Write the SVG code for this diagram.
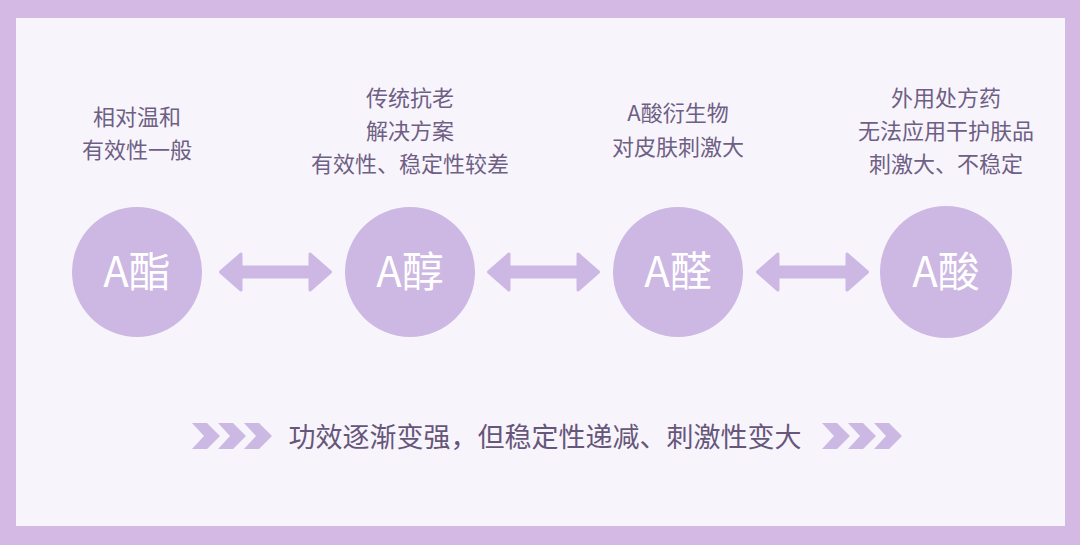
<svg xmlns="http://www.w3.org/2000/svg" width="1080" height="545" viewBox="0 0 1080 545">
  <style>
    .lbl { font-family: "Noto Sans CJK SC", "Noto Sans", sans-serif; font-size: 22px; fill: #6e5f84; text-anchor: middle; }
    .ttl { font-family: "Noto Sans CJK SC", "Noto Sans", sans-serif; font-size: 42px; fill: #ffffff; text-anchor: middle; }
    .bot { font-family: "Noto Sans CJK SC", "Noto Sans", sans-serif; font-size: 27px; fill: #66577a; text-anchor: middle; }
    .circ { fill: #cdb7e3; }
    .arr { fill: #cdb7e3; stroke: #cdb7e3; stroke-width: 3; stroke-linejoin: round; }
    .chev { fill: #cbb8e3; }
  </style>
  <defs>
    <path id="dbl" d="M1.5,0 L22,-18 L22,-5 L91,-5 L91,-18 L111.5,0 L91,18 L91,5 L22,5 L22,18 Z"/>
    <g id="chevs">
      <path d="M0,-13 L15,-13 L28,0 L15,13 L0,13 L12,0 Z"/>
      <path d="M26,-13 L41,-13 L54,0 L41,13 L26,13 L38,0 Z"/>
      <path d="M52,-13 L67,-13 L80,0 L67,13 L52,13 L64,0 Z"/>
    </g>
  </defs>
  <rect x="0" y="0" width="1080" height="545" fill="#d3b9e4"/>
  <rect x="16" y="18" width="1049" height="508" fill="#f8f4fc"/>

  <g id="node-ester">
    <text class="lbl" x="137" y="125">相对温和</text>
    <text class="lbl" x="137" y="158">有效性一般</text>
    <circle class="circ" cx="137" cy="272" r="65"/>
    <text class="ttl" x="137" y="287">A酯</text>
  </g>
  <g id="node-alcohol">
    <text class="lbl" x="410" y="106">传统抗老</text>
    <text class="lbl" x="410" y="139">解决方案</text>
    <text class="lbl" x="410" y="172">有效性、稳定性较差</text>
    <circle class="circ" cx="410" cy="272" r="65"/>
    <text class="ttl" x="410" y="287">A醇</text>
  </g>
  <g id="node-aldehyde">
    <text class="lbl" x="678" y="121">A酸衍生物</text>
    <text class="lbl" x="678" y="155">对皮肤刺激大</text>
    <circle class="circ" cx="678" cy="272" r="65"/>
    <text class="ttl" x="678" y="287">A醛</text>
  </g>
  <g id="node-acid">
    <text class="lbl" x="946" y="106">外用处方药</text>
    <text class="lbl" x="946" y="139">无法应用干护肤品</text>
    <text class="lbl" x="946" y="172">刺激大、不稳定</text>
    <circle class="circ" cx="946" cy="272" r="66"/>
    <text class="ttl" x="946" y="287">A酸</text>
  </g>

  <g id="connectors">
    <use href="#dbl" class="arr" transform="translate(219,272)"/>
    <use href="#dbl" class="arr" transform="translate(487,272)"/>
    <use href="#dbl" class="arr" transform="translate(756,272)"/>
  </g>

  <g id="trend">
    <use href="#chevs" class="chev" transform="translate(192,436)"/>
    <text class="bot" x="545" y="447">功效逐渐变强，但稳定性递减、刺激性变大</text>
    <use href="#chevs" class="chev" transform="translate(822,436)"/>
  </g>
</svg>
